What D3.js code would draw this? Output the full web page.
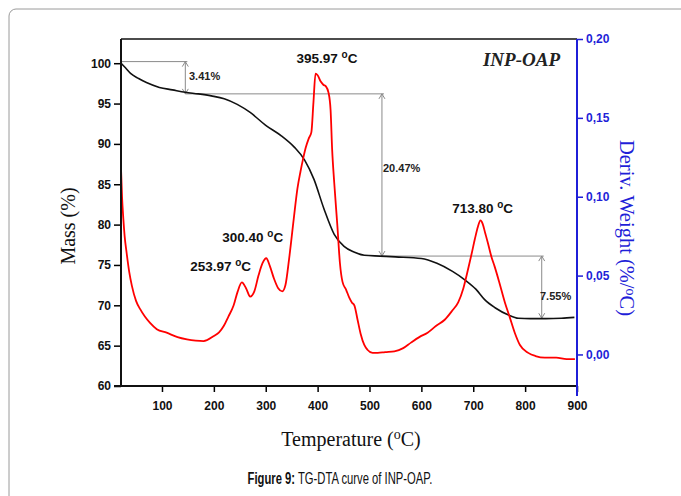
<!DOCTYPE html>
<html><head><meta charset="utf-8">
<script src="https://cdn.jsdelivr.net/npm/d3@7"></script>
<style>body{margin:0;background:#fff}svg{display:block}</style>
</head><body>
<svg id="c" width="681" height="496"></svg>
<script>
// ---- data ----
const massT = [21,30,40,55,70,95,120,145,170,195,220,245,270,300,330,355,375,393,412,432,451,470,490,520,550,600,630,660,685,705,722,742,768,787,810,840,870,895];
const massV = [100.0,99.4,98.7,98.1,97.6,97.0,96.7,96.4,96.2,95.95,95.6,94.9,93.9,92.3,91.0,89.6,88.0,85.6,82.0,78.8,77.3,76.6,76.2,76.1,76.0,75.8,75.2,74.2,73.1,72.0,70.7,69.7,68.8,68.4,68.35,68.35,68.4,68.5];
const dtgT = [21,23,25.5,28,32,37,42,50,58,67,77,90,109,130,148,165,180,200,210,219,228,238,246,254,262,270,278,286,294,301,308,316,324,332,338,345,354,361,367,372,377,383,388,392,396,400,406,411,416,421,425,428,432,438,443,448,455,461,466,471,477,483,490,496,506,516,530,548,565,580,596,612,628,645,660,671,681,690,697,703,709,714,718,723,728,735,741,750,761,770,780,790,806,820,838,860,880,896];
const dtgV = [0.118,0.100,0.086,0.075,0.064,0.052,0.0435,0.034,0.0287,0.024,0.020,0.016,0.0138,0.011,0.0096,0.0088,0.0085,0.0117,0.014,0.018,0.024,0.031,0.040,0.0457,0.042,0.0367,0.040,0.050,0.058,0.061,0.056,0.048,0.042,0.040,0.044,0.0605,0.086,0.105,0.116,0.124,0.131,0.137,0.141,0.160,0.178,0.177,0.173,0.171,0.170,0.166,0.155,0.130,0.109,0.082,0.058,0.046,0.041,0.036,0.033,0.031,0.022,0.013,0.006,0.003,0.001,0.001,0.0015,0.002,0.004,0.0075,0.011,0.0138,0.018,0.022,0.028,0.033,0.042,0.054,0.064,0.073,0.081,0.085,0.083,0.077,0.071,0.062,0.056,0.046,0.033,0.024,0.0138,0.006,0.001,-0.001,-0.002,-0.002,-0.003,-0.003];
const xTicks = [100,200,300,400,500,600,700,800,900];
const massTicks = [60,65,70,75,80,85,90,95,100];
const derivTicks = [0,0.05,0.10,0.15,0.20];
// mass-loss steps
const steps = [
  {t0:21, t1:145, m0:100.2, m1:96.2, label:"3.41%"},
  {t0:145, t1:524, m0:96.2, m1:76.1, label:"20.47%"},
  {t0:524, t1:832, m0:76.1, m1:68.4, label:"7.55%"}
];
// peak labels: text, label centre temperature, baseline deriv value
const peakLabels = ["253.97","300.40","395.97","713.80"];
const peakLabelT = [213, 275, 418, 718];
const peakLabelV = [0.0530, 0.0710, 0.1850, 0.0900];

// ---- scales ----
const svg = d3.select("#c");
const x = d3.scaleLinear([21, 900], [121, 577]);
const yL = d3.scaleLinear([60, 103], [386, 39]);
const yR = d3.scaleLinear([-0.02, 0.20], [386, 39]);

// outer card border
svg.append("rect").attr("x",9).attr("y",9).attr("width",720).attr("height",540)
  .attr("rx",7).attr("fill","none").attr("stroke","#9a9a9a").attr("stroke-width",1);

// annotations
const ann = svg.append("g").attr("stroke","#8a8a8a").attr("stroke-width",1).attr("fill","none");
steps.forEach(s=>{
  ann.append("line").attr("x1",x(s.t0)).attr("x2",x(s.t1)+2).attr("y1",yL(s.m0)).attr("y2",yL(s.m0));
  ann.append("line").attr("x1",x(s.t1)).attr("x2",x(s.t1)).attr("y1",yL(s.m0)).attr("y2",yL(s.m1));
  const xa = x(s.t1), ya = yL(s.m0), yb = yL(s.m1);
  ann.append("path").attr("d",`M${xa-3},${ya+5}L${xa},${ya}L${xa+3},${ya+5}`);
  ann.append("path").attr("d",`M${xa-3},${yb-5}L${xa},${yb}L${xa+3},${yb-5}`);
});

const fontAx = "Liberation Sans, Arial, sans-serif";
const stepLbl = [[189,80],[383,172],[540,300]];
steps.forEach((s,i)=>{
  svg.append("text").attr("x",stepLbl[i][0]).attr("y",stepLbl[i][1])
    .attr("font-family",fontAx).attr("font-size",11)
    .attr("font-weight","bold").attr("fill","#222")
    .text(s.label);
});

// curves
const massLine = d3.line().x((d,i)=>x(massT[i])).y((d,i)=>yL(massV[i])).curve(d3.curveMonotoneX);
svg.append("path").attr("d",massLine(massT)).attr("fill","none").attr("stroke","#111").attr("stroke-width",1.6);
const dtgLine = d3.line().x((d,i)=>x(dtgT[i])).y((d,i)=>yR(dtgV[i])).curve(d3.curveMonotoneX);
svg.append("path").attr("d",dtgLine(dtgT)).attr("fill","none").attr("stroke","#ff0000").attr("stroke-width",1.8);

// axes
const gL = svg.append("g").attr("transform","translate(121,0)")
  .call(d3.axisLeft(yL).tickValues(massTicks).tickSize(7).tickPadding(3).tickFormat(d3.format("d")));
const gB = svg.append("g").attr("transform","translate(0,386)")
  .call(d3.axisBottom(x).tickValues(xTicks).tickSize(6).tickPadding(9).tickFormat(d3.format("d")));
const gR = svg.append("g").attr("transform","translate(577,0)")
  .call(d3.axisRight(yR).tickValues(derivTicks).tickSize(6).tickPadding(3).tickFormat(d=>d3.format(".2f")(d).replace(".",",")));
[gL,gB,gR].forEach(g=>{
  g.select(".domain").remove();
  g.selectAll("text").attr("font-family",fontAx).attr("font-size",12).attr("font-weight","bold");
  g.selectAll("line").attr("stroke-width",1.5);
});
gR.selectAll("text").attr("fill","#1f1fd8");
gR.selectAll("line").attr("stroke","#1f1fd8");
gL.selectAll("text").attr("fill","#111");
gB.selectAll("text").attr("fill","#111");
// frame lines
svg.append("line").attr("x1",121).attr("x2",577).attr("y1",39).attr("y2",39).attr("stroke","#111").attr("stroke-width",1.5);
svg.append("line").attr("x1",114).attr("x2",577).attr("y1",386).attr("y2",386).attr("stroke","#111").attr("stroke-width",2);
svg.append("line").attr("x1",121).attr("x2",121).attr("y1",39).attr("y2",387).attr("stroke","#111").attr("stroke-width",2);
svg.append("line").attr("x1",577).attr("x2",577).attr("y1",39).attr("y2",396).attr("stroke","#1f1fd8").attr("stroke-width",2);

// peak labels
peakLabels.forEach((lab,i)=>{
  const t = svg.append("text").attr("x",x(peakLabelT[i])).attr("y",yR(peakLabelV[i])).attr("text-anchor","middle")
    .attr("font-family",fontAx).attr("font-size",13.5).attr("font-weight","bold").attr("fill","#111");
  t.append("tspan").text(lab+" ");
  t.append("tspan").attr("font-size",10).attr("dy",-5).text("o");
  t.append("tspan").attr("dy",5).text("C");
});

// INP-OAP
const serif = "Liberation Serif, Times New Roman, serif";
svg.append("text").attr("x",560).attr("y",66).attr("text-anchor","end")
  .attr("font-family",serif).attr("font-size",19)
  .attr("font-style","italic").attr("font-weight","bold").attr("fill","#222").text("INP-OAP");

// axis titles
svg.append("text").attr("transform","translate(75,226) rotate(-90)").attr("text-anchor","middle")
  .attr("font-family",serif).attr("font-size",20).attr("fill","#111").text("Mass (%)");
const tr = svg.append("text").attr("transform","translate(620,228) rotate(90)").attr("text-anchor","middle")
  .attr("font-family",serif).attr("font-size",20.5).attr("fill","#1f1fd8");
tr.append("tspan").text("Deriv. Weight (%/");
tr.append("tspan").attr("font-size",14).attr("dy",-6).text("o");
tr.append("tspan").attr("dy",6).text("C)");
const tb = svg.append("text").attr("x",351).attr("y",446).attr("text-anchor","middle")
  .attr("font-family",serif).attr("font-size",20).attr("fill","#111");
tb.append("tspan").text("Temperature (");
tb.append("tspan").attr("font-size",14).attr("dy",-7).text("o");
tb.append("tspan").attr("dy",7).text("C)");

// caption (condensed face emulated by horizontal scaling)
const capG = svg.append("g");
const cap = capG.append("text").attr("x",0).attr("y",0).attr("text-anchor","middle")
  .attr("font-family",fontAx).attr("font-size",16.5).attr("fill","#111");
cap.append("tspan").attr("font-weight","bold").text("Figure 9:");
cap.append("tspan").text(" TG-DTA curve of INP-OAP.");
const w = cap.node().getComputedTextLength();
capG.attr("transform",`translate(340,484) scale(${185/w},1)`);
</script>
</body></html>
